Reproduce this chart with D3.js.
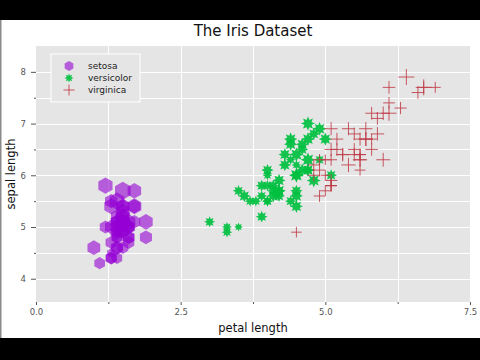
<!DOCTYPE html>
<html><head><meta charset="utf-8">
<script src="https://cdn.jsdelivr.net/npm/d3@7"></script>
<style>body{margin:0;background:#fff}svg{display:block}</style>
</head><body>
<svg id="c" width="480" height="360"></svg>
<script>
// ---- data (Iris: petal length, sepal length, sepal width) ----
const species = ["setosa", "versicolor", "virginica"];
const setosaPetalLength = [1.4,1.4,1.3,1.5,1.4,1.7,1.4,1.5,1.4,1.5,1.5,1.6,1.4,1.1,1.2,1.5,1.3,1.4,1.7,1.5,1.7,1.5,1.0,1.7,1.9,1.6,1.6,1.5,1.4,1.6,1.6,1.5,1.5,1.4,1.5,1.2,1.3,1.4,1.3,1.5,1.3,1.3,1.3,1.6,1.9,1.4,1.6,1.4,1.5,1.4];
const setosaSepalLength = [5.1,4.9,4.7,4.6,5.0,5.4,4.6,5.0,4.4,4.9,5.4,4.8,4.8,4.3,5.8,5.7,5.4,5.1,5.7,5.1,5.4,5.1,4.6,5.1,4.8,5.0,5.0,5.2,5.2,4.7,4.8,5.4,5.2,5.5,4.9,5.0,5.5,4.9,4.4,5.1,5.0,4.5,4.4,5.0,5.1,4.8,5.1,4.6,5.3,5.0];
const setosaSepalWidth = [3.5,3.0,3.2,3.1,3.6,3.9,3.4,3.4,2.9,3.1,3.7,3.4,3.0,3.0,4.0,4.4,3.9,3.5,3.8,3.8,3.4,3.7,3.6,3.3,3.4,3.0,3.4,3.5,3.4,3.2,3.1,3.4,4.1,4.2,3.1,3.2,3.5,3.6,3.0,3.4,3.5,2.3,3.2,3.5,3.8,3.0,3.8,3.2,3.7,3.3];
const versicolorPetalLength = [4.7,4.5,4.9,4.0,4.6,4.5,4.7,3.3,4.6,3.9,3.5,4.2,4.0,4.7,3.6,4.4,4.5,4.1,4.5,3.9,4.8,4.0,4.9,4.7,4.3,4.4,4.8,5.0,4.5,3.5,3.8,3.7,3.9,5.1,4.5,4.5,4.7,4.4,4.1,4.0,4.4,4.6,4.0,3.3,4.2,4.2,4.2,4.3,3.0,4.1];
const versicolorSepalLength = [7.0,6.4,6.9,5.5,6.5,5.7,6.3,4.9,6.6,5.2,5.0,5.9,6.0,6.1,5.6,6.7,5.6,5.8,6.2,5.6,5.9,6.1,6.3,6.1,6.4,6.6,6.8,6.7,6.0,5.7,5.5,5.5,5.8,6.0,5.4,6.0,6.7,6.3,5.6,5.5,5.5,6.1,5.8,5.0,5.6,5.7,5.7,6.2,5.1,5.7];
const versicolorSepalWidth = [3.2,3.2,3.1,2.3,2.8,2.8,3.3,2.4,2.9,2.7,2.0,3.0,2.2,2.9,2.9,3.1,3.0,2.7,2.2,2.5,3.2,2.8,2.5,2.8,2.9,3.0,2.8,3.0,2.9,2.6,2.4,2.4,2.7,2.7,3.0,3.4,3.1,2.3,3.0,2.5,2.6,3.0,2.6,2.3,2.7,3.0,2.9,2.9,2.5,2.8];
const virginicaPetalLength = [6.0,5.1,5.9,5.6,5.8,6.6,4.5,6.3,5.8,6.1,5.1,5.3,5.5,5.0,5.1,5.3,5.5,6.7,6.9,5.0,5.7,4.9,6.7,4.9,5.7,6.0,4.8,4.9,5.6,5.8,6.1,6.4,5.6,5.1,5.6,6.1,5.6,5.5,4.8,5.4,5.6,5.1,5.1,5.9,5.7,5.2,5.0,5.2,5.4,5.1];
const virginicaSepalLength = [6.3,5.8,7.1,6.3,6.5,7.6,4.9,7.3,6.7,7.2,6.5,6.4,6.8,5.7,5.8,6.4,6.5,7.7,7.7,6.0,6.9,5.6,7.7,6.3,6.7,7.2,6.2,6.1,6.4,7.2,7.4,7.9,6.4,6.3,6.1,7.7,6.3,6.4,6.0,6.9,6.7,6.9,5.8,6.8,6.7,6.7,6.3,6.5,6.2,5.9];
const virginicaSepalWidth = [3.3,2.7,3.0,2.9,3.0,3.0,2.5,2.9,2.5,3.6,3.2,2.7,3.0,2.5,2.8,3.2,3.0,3.8,2.6,2.2,3.2,2.8,2.8,2.7,3.3,3.2,2.8,3.0,2.8,3.0,2.8,3.8,2.8,2.8,2.6,3.0,3.4,3.1,3.0,3.1,3.1,3.1,2.7,3.2,3.3,3.0,2.5,3.0,3.4,3.0];
const xMajorTicks = [0, 2.5, 5.0, 7.5];
const xMinorTicks = [1.25, 3.75, 6.25];
const yMajorTicks = [4, 5, 6, 7, 8];
const yMinorTicks = [4.5, 5.5, 6.5, 7.5];
const titleText = "The Iris Dataset";
const xLabel = "petal length";
const yLabel = "sepal length";

const groups = [
  {name: species[0], x: setosaPetalLength, y: setosaSepalLength, w: setosaSepalWidth, shape: "hexagon", color: "#9400d3"},
  {name: species[1], x: versicolorPetalLength, y: versicolorSepalLength, w: versicolorSepalWidth, shape: "star", color: "#00c040"},
  {name: species[2], x: virginicaPetalLength, y: virginicaSepalLength, w: virginicaSepalWidth, shape: "plus", color: "#c03c48"}
];

const svg = d3.select("#c");
const font = "DejaVu Sans, sans-serif";
const L = 36, R = 470, T = 46, B = 302;

// letterbox
svg.append("rect").attr("x",0).attr("y",0).attr("width",480).attr("height",360).attr("fill","#fff");
svg.append("rect").attr("x",0).attr("y",0).attr("width",480).attr("height",20).attr("fill","#000");
svg.append("rect").attr("x",0).attr("y",338).attr("width",480).attr("height",22).attr("fill","#000");
svg.append("rect").attr("x",0).attr("y",20).attr("width",1.5).attr("height",318).attr("fill","#8a8a8a");

const x = d3.scaleLinear().domain([0, 7.5]).range([L, R]);
const y = d3.scaleLinear().domain([3.55, 8.5]).range([B, T]);
const size = {hexagon: d3.scaleLinear().domain([0, 1]).range([0, 2.05]),
              star: d3.scaleLinear().domain([0, 1]).range([0, 2.2]),
              plus: d3.scaleLinear().domain([0, 1]).range([0, 2.1])};

svg.append("rect").attr("x",L).attr("y",T).attr("width",R-L).attr("height",B-T).attr("fill","#e5e5e5");

const grid = svg.append("g").attr("stroke","#fff").attr("stroke-width",1);
xMinorTicks.concat([2.5,5.0]).forEach(v=>{
  grid.append("line").attr("x1",Math.round(x(v))+0.5).attr("x2",Math.round(x(v))+0.5).attr("y1",T).attr("y2",B);
});
yMajorTicks.concat(yMinorTicks).forEach(v=>{
  grid.append("line").attr("y1",Math.round(y(v))+0.5).attr("y2",Math.round(y(v))+0.5).attr("x1",L).attr("x2",R);
});

// axes
function styleAxis(g){
  g.select(".domain").remove();
  g.selectAll("line").attr("stroke","#555");
  g.selectAll("text").attr("fill","#555").attr("font-family",font).attr("font-size","8.5px");
}
svg.append("g").attr("transform",`translate(0,${B})`)
  .call(d3.axisBottom(x).tickValues(xMajorTicks).tickSize(3).tickPadding(4).tickFormat(d3.format(".1f"))).call(styleAxis);
svg.append("g").attr("transform",`translate(0,${B})`)
  .call(d3.axisBottom(x).tickValues(xMinorTicks).tickSize(2).tickFormat("")).call(styleAxis);
svg.append("g").attr("transform",`translate(${L},0)`)
  .call(d3.axisLeft(y).tickValues(yMajorTicks).tickSize(5).tickPadding(5).tickFormat(d3.format("d"))).call(styleAxis);
svg.append("g").attr("transform",`translate(${L},0)`)
  .call(d3.axisLeft(y).tickValues(yMinorTicks).tickSize(2).tickFormat("")).call(styleAxis);

// shapes
function shapePath(shape, r){
  if (shape === "hexagon") {
    const pts = d3.range(6).map(i=>[i*Math.PI/3, r]);
    return d3.lineRadial().curve(d3.curveLinearClosed)(pts);
  }
  if (shape === "star") {
    const n = 8;
    const pts = d3.range(2*n).map(i=>[i*Math.PI/n, i%2===0 ? r : r*0.55]);
    return d3.lineRadial().curve(d3.curveLinearClosed)(pts);
  }
  return `M${-r},0H${r}M0,${-r}V${r}`;
}
function drawMark(g, grp, cx, cy, r){
  const p = g.append("path").attr("transform",`translate(${cx},${cy})`).attr("d",shapePath(grp.shape,r));
  if (grp.shape === "plus") p.attr("fill","none").attr("stroke",grp.color).attr("stroke-width",1).attr("stroke-opacity",0.85);
  else if (grp.shape === "hexagon") p.attr("fill",grp.color).attr("fill-opacity",0.6);
  else p.attr("fill",grp.color).attr("fill-opacity",0.92);
}
const marks = svg.append("g");
groups.forEach(grp=>{
  grp.x.forEach((xv,i)=>{
    drawMark(marks, grp, x(xv), y(grp.y[i]), size[grp.shape](grp.w[i]));
  });
});

// legend
const lg = svg.append("g");
lg.append("rect").attr("x",51).attr("y",54).attr("width",89).attr("height",48).attr("fill","#e5e5e5").attr("stroke","#fff").attr("stroke-width",1);
groups.forEach((grp,i)=>{
  const cy = 66 + i*12;
  drawMark(lg, grp, 69, cy, grp.shape==="hexagon"?5:(grp.shape==="star"?4.5:5.5));
  lg.append("text").attr("x",88).attr("y",cy+3).attr("font-family",font).attr("font-size","9px").attr("fill","#222").text(grp.name);
});

// titles
svg.append("text").attr("x",(L+R)/2).attr("y",36).attr("text-anchor","middle").attr("font-family",font).attr("font-size","15px").attr("fill","#111").text(titleText);
svg.append("text").attr("x",(L+R)/2).attr("y",332).attr("text-anchor","middle").attr("font-family",font).attr("font-size","11.5px").attr("fill","#111").text(xLabel);
svg.append("text").attr("transform",`translate(15,${(T+B)/2}) rotate(-90)`).attr("text-anchor","middle").attr("font-family",font).attr("font-size","11.5px").attr("fill","#111").text(yLabel);
</script>
</body></html>
